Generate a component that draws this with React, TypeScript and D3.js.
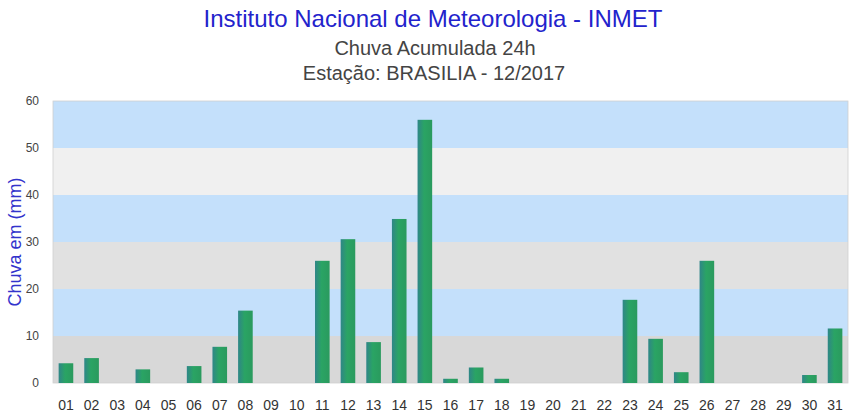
import React from "react";
import * as d3 from "d3";

const days = ["01","02","03","04","05","06","07","08","09","10","11","12","13","14","15","16","17","18","19","20","21","22","23","24","25","26","27","28","29","30","31"];
const rain = [4.2,5.3,0,2.9,0,3.6,7.7,15.4,0,0,26,30.6,8.7,34.9,56,0.9,3.3,0.9,0,0,0,0,17.7,9.4,2.3,26,0,0,0,1.7,11.6];
const yTicks = [0,10,20,30,40,50,60];
const bandColors = ["#d8d8d8","#c4e0fb","#e1e1e1","#c4e0fb","#f0f0f0","#c4e0fb"];

const W = 857, H = 420;
const M = { left: 53, right: 9, top: 101, bottom: 37 };

export default function App() {
  const x = d3.scaleBand<string>().domain(days).range([M.left, W - M.right]).paddingInner(0.43).paddingOuter(0.22);
  const y = d3.scaleLinear().domain([0, 60]).range([H - M.bottom, M.top]);
  const font = "Arial, 'Liberation Sans', sans-serif";
  return (
    <svg width={W} height={H} style={{ position: "absolute", left: 0, top: 0, background: "#fff" }}>
      <defs>
        <linearGradient id="barG" x1="0" x2="1" y1="0" y2="0">
          <stop offset="0" stopColor="#2f8688" />
          <stop offset="0.45" stopColor="#2aa464" />
          <stop offset="1" stopColor="#2a9a5e" />
        </linearGradient>
      </defs>
      {yTicks.slice(0, -1).map((t, i) => (
        <rect key={t} x={M.left} width={W - M.right - M.left} y={y(t + 10)} height={y(t) - y(t + 10)} fill={bandColors[i]} />
      ))}
      <rect x={M.left} y={M.top} width={W - M.right - M.left} height={H - M.bottom - M.top} fill="none" stroke="#d0d0d0" strokeWidth={0.8} />
      {rain.map((v, i) => v > 0 ? (
        <rect key={days[i]} x={x(days[i])} width={x.bandwidth()} y={y(v)} height={y(0) - y(v)} fill="url(#barG)" />
      ) : null)}
      {yTicks.map(t => (
        <text key={t} x={39} y={y(t) + 4} textAnchor="end" fontFamily={font} fontSize={12} fill="#444">{t}</text>
      ))}
      {days.map(d => (
        <text key={d} x={(x(d) as number) + x.bandwidth() / 2} y={410} textAnchor="middle" fontFamily={font} fontSize={14} fill="#333">{d}</text>
      ))}
      <text transform={`translate(21,${(y(0) + y(60)) / 2}) rotate(-90)`} textAnchor="middle" fontFamily={font} fontSize={18} fill="#3333cc">Chuva em (mm)</text>
      <text x={433} y={27} textAnchor="middle" fontFamily={font} fontSize={24} fill="#2323cc">Instituto Nacional de Meteorologia - INMET</text>
      <text x={435} y={55} textAnchor="middle" fontFamily={font} fontSize={20} fill="#444">Chuva Acumulada 24h</text>
      <text x={434} y={80} textAnchor="middle" fontFamily={font} fontSize={20} fill="#444">Estação: BRASILIA - 12/2017</text>
    </svg>
  );
}
